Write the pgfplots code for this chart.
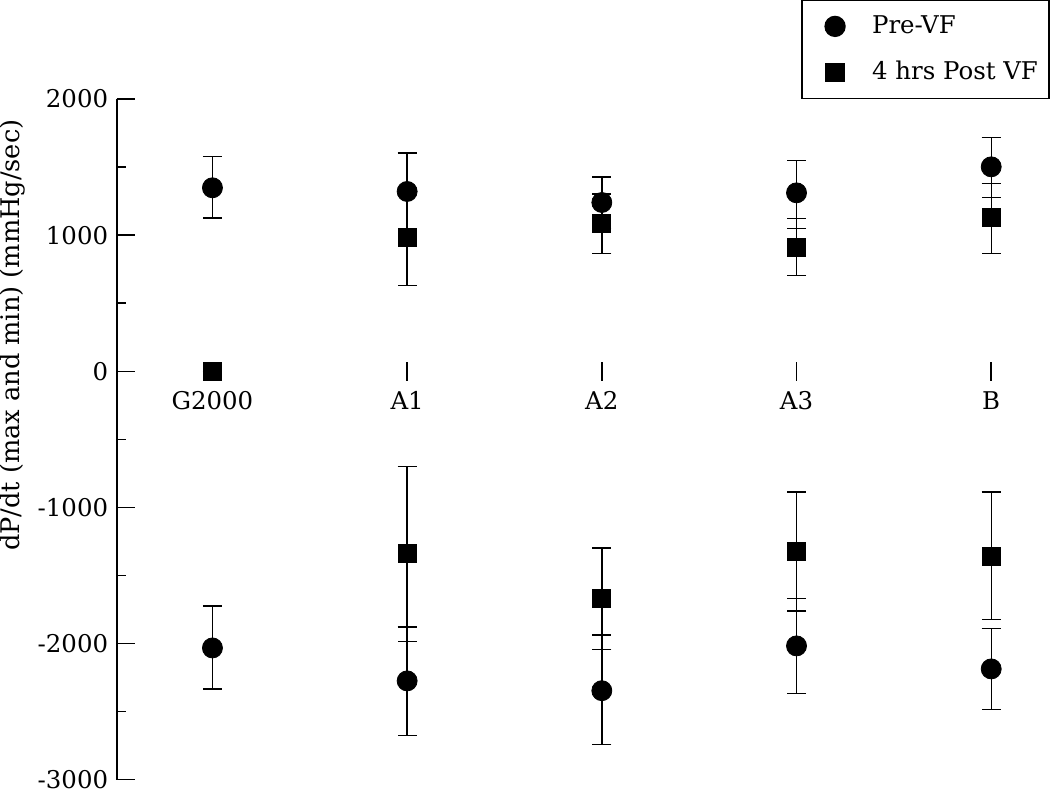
\documentclass[border=0pt]{standalone}
\usepackage{pgfplots}
\pgfplotsset{compat=1.18}
\usepackage{fontspec}
\setmainfont{DejaVu Serif}
\begin{document}
\fontsize{12.2}{14.6}\selectfont
\begin{tikzpicture}
\begin{axis}[
  scale only axis,
  width=466pt, height=340pt,
  xmin=-0.492, xmax=4.3,
  ymin=-3000, ymax=2000,
  axis y line*=left,
  axis x line*=middle,
  x axis line style={draw opacity=0},
  y axis line style={line width=1pt, draw=black},
  xtick={0,1,2,3,4},
  xticklabels={G2000,A1,A2,A3,B},
  ytick={-3000,-2000,-1000,0,1000,2000},
  minor y tick num=1,
  major tick length=9.25pt,
  minor tick length=4.5pt,
  every tick/.style={black, line width=0.75pt},
  y tick style={/pgfplots/tick align=inside},
  x tick style={/pgfplots/tick align=center},
  xticklabel style={yshift=-6pt},
  /pgf/number format/assume math mode=true,
  scaled y ticks=false,
  yticklabel style={/pgf/number format/1000 sep={}},
  tick label style={font=\fontsize{12.2}{14.6}\selectfont},
  ylabel={dP/dt (max and min) (mmHg/sec)},
  ylabel shift=5pt,
  ylabel style={at={(ticklabel cs:0.653)}, yshift=-3pt, inner sep=0pt, font=\fontsize{12.8}{15}\selectfont},
  clip=false,
  legend style={at={(1,1)}, anchor=south east, draw=black, line width=0.65pt,
    font=\fontsize{12.2}{14.6}\selectfont, inner xsep=3.5pt, inner ysep=5.5pt,
    row sep=8pt, column sep=1.5pt, cells={anchor=west}},
  legend image code/.code={%
    \path[draw=none, fill=none] (0pt,0pt) -- (28pt,0pt);
    \draw[#1] plot coordinates {(13pt,0pt)};},
  legend cell align=left,
  error bars/error bar style={line width=0.7pt, black},
  error bars/error mark options={rotate=90, line width=0.7pt, mark size=4.75pt, black},
]
\addplot+[only marks, mark=*, mark size=5pt, black, mark options={fill=black},
  error bars/.cd, y dir=both, y explicit]
coordinates {
  (0,1348) += (0,228) -= (0,223)
  (0,-2032) += (0,309) -= (0,301)
  (1,1321) += (0,282) -= (0,282)
  (1,-2274) += (0,397) -= (0,400)
  (2,1240) += (0,186) -= (0,186)
  (2,-2346) += (0,410) -= (0,397)
  (3,1311) += (0,238) -= (0,262)
  (3,-2017) += (0,348) -= (0,351)
  (4,1502) += (0,216) -= (0,227)
  (4,-2186) += (0,296) -= (0,299)
};
\addlegendentry{Pre-VF}
\addplot+[only marks, mark=square*, mark size=4.5pt, black, mark options={fill=black},
  error bars/.cd, y dir=both, y explicit]
coordinates {
  (0,0) += (0,0) -= (0,0)
  (1,983) += (0,351) -= (0,351)
  (1,-1341) += (0,643) -= (0,642)
  (2,1083) += (0,218) -= (0,218)
  (2,-1669) += (0,372) -= (0,373)
  (3,912) += (0,211) -= (0,208)
  (3,-1324) += (0,437) -= (0,436)
  (4,1127) += (0,253) -= (0,262)
  (4,-1360) += (0,473) -= (0,461)
};
\addlegendentry{4 hrs Post VF}
\draw[black, line width=1pt] (rel axis cs:0,0) -- (rel axis cs:0,1);
\end{axis}
\end{tikzpicture}
\end{document}
